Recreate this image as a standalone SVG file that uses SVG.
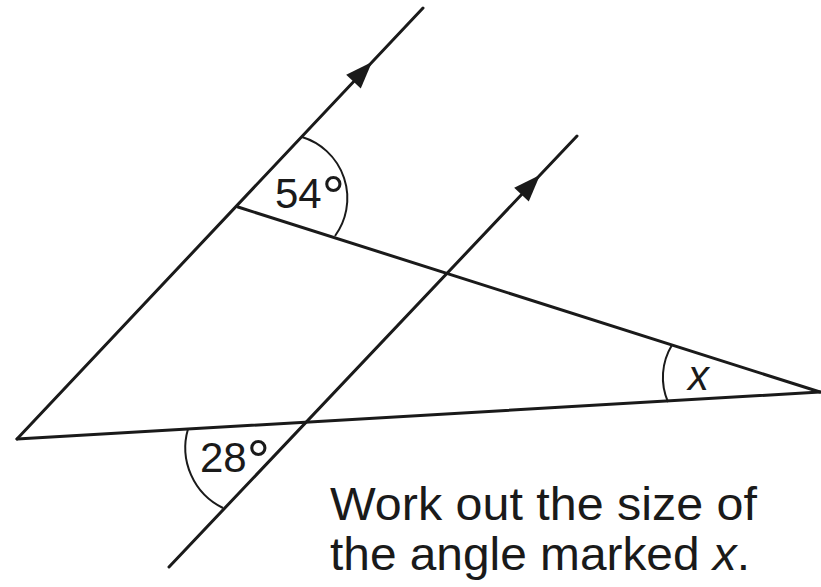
<svg xmlns="http://www.w3.org/2000/svg" width="821" height="587" viewBox="0 0 821 587">
<style>
.ln{stroke:#1a1a1a;stroke-width:3;fill:none;stroke-linecap:round;stroke-linejoin:round}
.arc{stroke:#1a1a1a;stroke-width:2;fill:none}
.lbl{font-family:"Liberation Sans",Arial,sans-serif;font-size:42px;fill:#1a1a1a}
.txt{font-family:"Liberation Sans",Arial,sans-serif;font-size:46px;fill:#1a1a1a}
</style>
<defs>
<path id="ah" d="M0,0 L-27,-10 L-27,10 Z" fill="#1a1a1a"/>
</defs>
<rect width="821" height="587" fill="#fff"/>
<g id="connectors">
<line class="ln" x1="17" y1="439" x2="423" y2="8"/>
<line class="ln" x1="169" y1="567" x2="577" y2="136"/>
<line class="ln" x1="238" y1="207" x2="820" y2="392"/>
<line class="ln" x1="17" y1="439" x2="820" y2="392"/>
<use href="#ah" transform="translate(372,62) rotate(-46.7)"/>
<use href="#ah" transform="translate(540,175) rotate(-46.7)"/>
</g>
<g id="angle54">
<path class="arc" d="M302,137 A64,64 0 0 1 335,236"/>
<text class="lbl" x="275" y="208">54<tspan font-size="58" dy="8">°</tspan></text>
</g>
<g id="angle28">
<path class="arc" d="M188,429 A67,67 0 0 0 223,508"/>
<text class="lbl" x="200" y="472">28<tspan font-size="58" dy="8">°</tspan></text>
</g>
<g id="anglex">
<path class="arc" d="M672,345 A62,62 0 0 0 668,402"/>
<text class="lbl" x="688" y="390" font-style="italic">x</text>
</g>
<g id="question">
<text class="txt" x="330" y="520" textLength="427" lengthAdjust="spacingAndGlyphs">Work out the size of</text>
<text class="txt" x="330" y="570" textLength="420" lengthAdjust="spacingAndGlyphs">the angle marked <tspan font-style="italic">x</tspan>.</text>
</g>
</svg>
